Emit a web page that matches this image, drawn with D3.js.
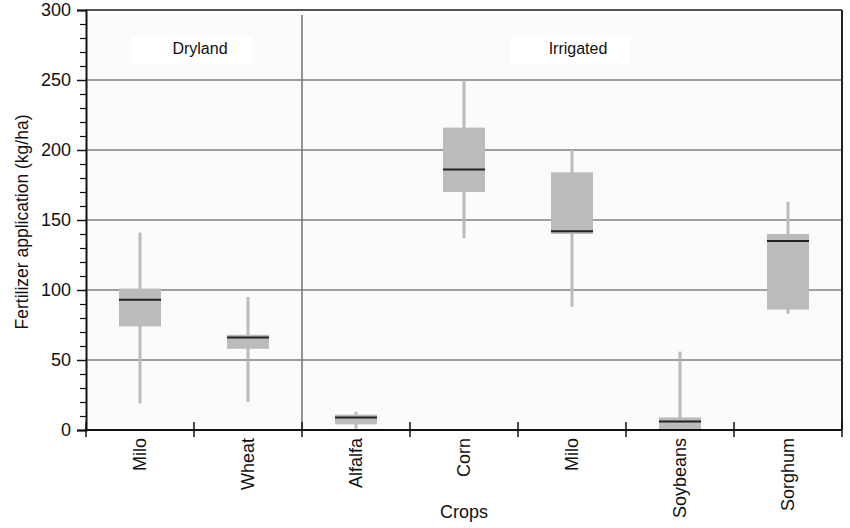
<!DOCTYPE html>
<html>
<head>
<meta charset="utf-8">
<script src="https://cdn.jsdelivr.net/npm/d3@7"></script>
<style>
  body { margin: 0; background: #fff; }
  svg { font-family: "Liberation Sans", Arial, sans-serif; }
</style>
</head>
<body>
<div id="chart"></div>
<script>
// Crop categories and their group
const crops = ['Milo', 'Wheat', 'Alfalfa', 'Corn', 'Milo', 'Soybeans', 'Sorghum'];
const cropGroup = ['Dryland', 'Dryland', 'Irrigated', 'Irrigated', 'Irrigated', 'Irrigated', 'Irrigated'];
const groups = ['Dryland', 'Irrigated'];

// Box plot statistics (kg/ha)
const whiskerLow = [19, 20, 1, 137, 88, 0, 83];
const q1 = [74, 58, 4, 170, 140, 0, 86];
const median = [93, 66, 9, 186, 142, 6, 135];
const q3 = [101, 68, 11, 216, 184, 9, 140];
const whiskerHigh = [141, 95, 13, 250, 200, 56, 163];

const yMajor = [0, 50, 100, 150, 200, 250, 300];

const margin = { top: 10, right: 8, bottom: 98, left: 86 };
const width = 850 - margin.left - margin.right;
const height = 528 - margin.top - margin.bottom;

const rows = crops.map((c, i) => ({
  key: i, crop: c, group: cropGroup[i],
  lo: whiskerLow[i], q1: q1[i], med: median[i], q3: q3[i], hi: whiskerHigh[i]
}));

const svg = d3.select('#chart')
  .append('svg')
  .attr('width', 850)
  .attr('height', 528)
  .append('g')
  .attr('transform', `translate(${margin.left},${margin.top})`);

const x = d3.scaleBand()
  .domain(rows.map((d) => d.key))
  .range([0, width]);

const y = d3.scaleLinear()
  .domain([0, 300])
  .range([height, 0]);

// Plot background
svg.append('rect')
  .attr('width', width)
  .attr('height', height)
  .attr('fill', '#fbfbfb');

// Group label boxes
groups.forEach((g) => {
  const idx = rows.filter((d) => d.group === g).map((d) => d.key);
  const x0 = x(idx[0]);
  const x1 = x(idx[idx.length - 1]) + x.bandwidth();
  const cx = (x0 + x1) / 2 + 6;
  svg.append('rect')
    .attr('x', cx - 68)
    .attr('y', 26)
    .attr('width', 120)
    .attr('height', 27)
    .attr('fill', '#ffffff');
  svg.append('text')
    .attr('x', cx)
    .attr('y', 44)
    .attr('text-anchor', 'middle')
    .style('font-size', '16px')
    .attr('fill', '#111')
    .text(g);
});

// Horizontal gridlines
svg.append('g')
  .selectAll('line')
  .data(yMajor.filter((v) => v > 0 && v < 300))
  .enter()
  .append('line')
  .attr('x1', 0)
  .attr('x2', width)
  .attr('y1', (d) => y(d))
  .attr('y2', (d) => y(d))
  .attr('stroke', '#808080')
  .attr('stroke-width', 1.5);

// Divider between dryland and irrigated
const divX = x(rows.find((d) => d.group === 'Irrigated').key);
svg.append('line')
  .attr('x1', divX)
  .attr('x2', divX)
  .attr('y1', 5)
  .attr('y2', height)
  .attr('stroke', '#707070')
  .attr('stroke-width', 1.5);

// Boxes
const boxW = 42;
const box = svg.append('g')
  .selectAll('g')
  .data(rows)
  .enter()
  .append('g')
  .attr('transform', (d) => `translate(${x(d.key) + x.bandwidth() / 2},0)`);

box.append('line')
  .attr('x1', 0)
  .attr('x2', 0)
  .attr('y1', (d) => y(d.hi))
  .attr('y2', (d) => y(d.lo))
  .attr('stroke', '#bbbbbb')
  .attr('stroke-width', 3);

box.append('rect')
  .attr('x', -boxW / 2)
  .attr('width', boxW)
  .attr('y', (d) => y(d.q3))
  .attr('height', (d) => Math.max(y(d.q1) - y(d.q3), 1))
  .attr('fill', '#bbbbbb');

box.append('line')
  .attr('x1', -boxW / 2)
  .attr('x2', boxW / 2)
  .attr('y1', (d) => y(d.med))
  .attr('y2', (d) => y(d.med))
  .attr('stroke', '#222')
  .attr('stroke-width', 2);

// Frame: top and right
svg.append('line')
  .attr('x1', 0).attr('x2', width)
  .attr('y1', 0).attr('y2', 0)
  .attr('stroke', '#555').attr('stroke-width', 2);
svg.append('line')
  .attr('x1', width).attr('x2', width)
  .attr('y1', 0).attr('y2', height)
  .attr('stroke', '#222').attr('stroke-width', 2);

// Y axis with minor ticks
const yAxis = svg.append('g')
  .call(d3.axisLeft(y).tickValues(yMajor).tickSize(9).tickPadding(6).tickFormat(d3.format('d')));
const yMinor = svg.append('g')
  .call(d3.axisLeft(y).tickValues(d3.range(0, 301, 10).filter((v) => v % 50 !== 0)).tickSize(6).tickFormat(''));
yMinor.select('.domain').remove();
yMinor.selectAll('.tick line').attr('stroke', '#111').attr('stroke-width', 1.2);
yAxis.select('.domain').attr('stroke', '#111').attr('stroke-width', 2);
yAxis.selectAll('.tick line').attr('stroke', '#111').attr('stroke-width', 1.5);
yAxis.selectAll('.tick text')
  .style('font-size', '18px')
  .attr('fill', '#111')
  .attr('font-family', '"Liberation Sans", Arial, sans-serif');

// X axis: separators between categories, crossing the axis line
const xAxis = svg.append('g')
  .attr('transform', `translate(0,${height})`);
xAxis.append('line')
  .attr('x1', 0).attr('x2', width)
  .attr('stroke', '#111').attr('stroke-width', 2);
xAxis.selectAll('line.sep')
  .data(d3.range(0, crops.length + 1))
  .enter()
  .append('line')
  .attr('class', 'sep')
  .attr('x1', (i) => (i < crops.length ? x(i) : width))
  .attr('x2', (i) => (i < crops.length ? x(i) : width))
  .attr('y1', -8)
  .attr('y2', 7)
  .attr('stroke', '#111')
  .attr('stroke-width', 1.5);

xAxis.selectAll('text.cat')
  .data(rows)
  .enter()
  .append('text')
  .attr('class', 'cat')
  .attr('transform', (d) => `translate(${x(d.key) + x.bandwidth() / 2 + 6},8) rotate(-90)`)
  .attr('text-anchor', 'end')
  .style('font-size', '18px')
  .attr('fill', '#111')
  .text((d) => d.crop);

// Axis titles
svg.append('text')
  .attr('x', width / 2)
  .attr('y', height + 88)
  .attr('text-anchor', 'middle')
  .style('font-size', '18px')
  .attr('fill', '#111')
  .text('Crops');

svg.append('text')
  .attr('transform', 'rotate(-90)')
  .attr('x', -212)
  .attr('y', -58)
  .attr('text-anchor', 'middle')
  .style('font-size', '17.5px')
  .attr('fill', '#111')
  .text('Fertilizer application (kg/ha)');
</script>
</body>
</html>
